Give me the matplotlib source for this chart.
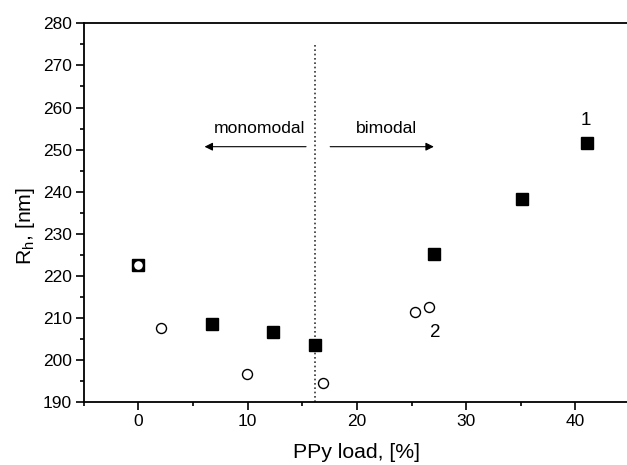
import matplotlib
matplotlib.use("Agg")
import matplotlib.pyplot as plt

plt.rcParams['font.family'] = ['Liberation Sans', 'DejaVu Sans']
plt.rcParams['mathtext.fontset'] = 'custom'
plt.rcParams['mathtext.rm'] = 'Liberation Sans'
plt.rcParams['mathtext.it'] = 'Liberation Sans'

# series 1 (filled squares)
x1 = [0.0, 6.7, 12.3, 16.2, 27.1, 35.1, 41.1]
y1 = [222.5, 208.7, 206.8, 203.6, 225.2, 238.2, 251.5]
# series 2 (open circles)
x2 = [0.0, 2.1, 9.9, 16.9, 25.3, 26.6]
y2 = [222.5, 207.7, 196.7, 194.6, 211.5, 212.6]

boundary_x = 16.2

fig = plt.figure(figsize=(6.27, 4.65), dpi=100)
ax = fig.add_axes([0.1337, 0.1348, 0.871, 0.8151])

ax.plot(x1, y1, ls='none', marker='s', ms=8.6, mfc='black', mec='black', zorder=3)
ax.plot(x2, y2, ls='none', marker='o', ms=7.2, mfc='white', mec='black', mew=1.0, zorder=4)

ax.plot([boundary_x, boundary_x], [190, 275], ls=(0, (1, 1.6)), color='#333333', lw=1.2, zorder=2)

ax.annotate('', xy=(5.8, 250.7), xytext=(15.6, 250.7),
            arrowprops=dict(arrowstyle='-|>', color='black', lw=0.8, mutation_scale=12))
ax.annotate('', xy=(27.3, 250.7), xytext=(17.3, 250.7),
            arrowprops=dict(arrowstyle='-|>', color='black', lw=0.8, mutation_scale=12))
ax.text(11.1, 255.1, 'monomodal', ha='center', va='center', fontsize=12.6)
ax.text(22.7, 255.1, 'bimodal', ha='center', va='center', fontsize=12.6)
ax.text(41.0, 256.8, '1', ha='center', va='center', fontsize=13.5)
ax.text(27.2, 206.5, '2', ha='center', va='center', fontsize=13.5)

ax.set_xlim(-5, 45)
ax.set_ylim(190, 280)
ax.set_xticks([0, 10, 20, 30, 40])
ax.set_xticks([-5, 5, 15, 25, 35, 45], minor=True)
ax.set_yticks(range(190, 281, 10))
ax.set_yticks(range(195, 280, 10), minor=True)
ax.tick_params(which='major', direction='out', length=5.5, width=1.2, labelsize=12.5, pad=3)
ax.tick_params(which='minor', direction='out', length=2.8, width=1.2)
for s in ax.spines.values():
    s.set_linewidth(1.3)
ax.spines['right'].set_visible(False)

ax.set_xlabel('PPy load, [%]', fontsize=15.3)
ax.set_ylabel('R$_h$, [nm]', fontsize=15.3)
ax.xaxis.set_label_coords(0.5, -0.108)
ax.yaxis.set_label_coords(-0.086, 0.464)

fig.savefig('out.png', dpi=100)
